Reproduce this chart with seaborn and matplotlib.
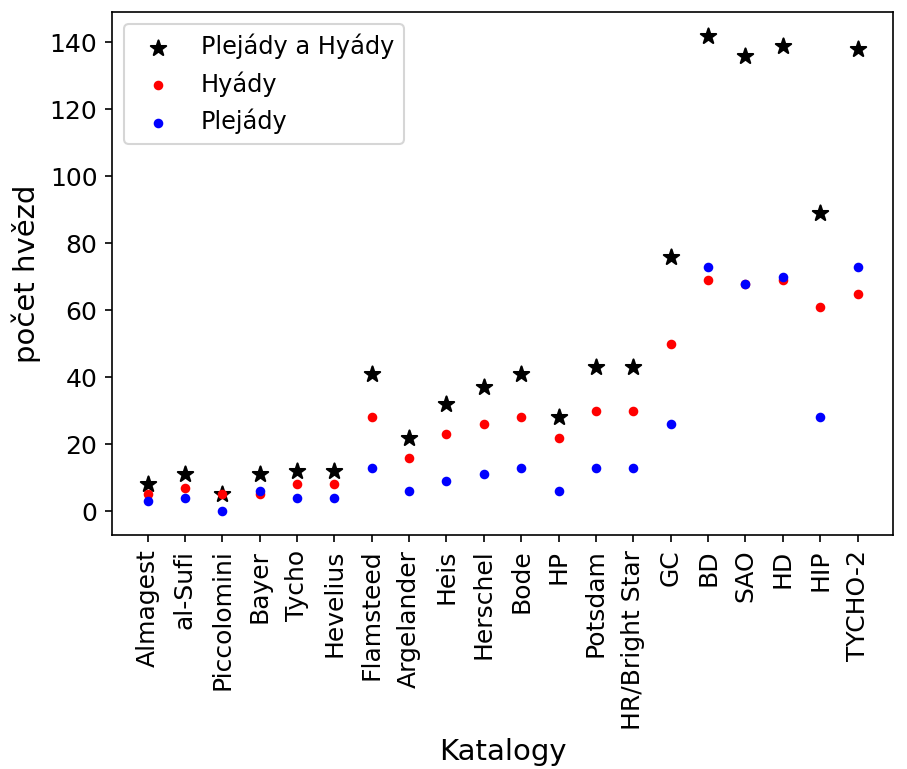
import matplotlib
matplotlib.use("Agg")
import matplotlib.pyplot as plt
import seaborn as sns
import pandas as pd

katalogy = ["Almagest", "al-Sufi", "Piccolomini", "Bayer", "Tycho", "Hevelius",
            "Flamsteed", "Argelander", "Heis", "Herschel", "Bode", "HP", "Potsdam",
            "HR/Bright Star", "GC", "BD", "SAO", "HD", "HIP", "TYCHO-2"]
oboje = [8, 11, 5, 11, 12, 12, 41, 22, 32, 37, 41, 28, 43, 43, 76, 142, 136, 139, 89, 138]
hyady = [5, 7, 5, 5, 8, 8, 28, 16, 23, 26, 28, 22, 30, 30, 50, 69, 68, 69, 61, 65]
plejady = [3, 4, 0, 6, 4, 4, 13, 6, 9, 11, 13, 6, 13, 13, 26, 73, 68, 70, 28, 73]

df = pd.DataFrame({"katalog": katalogy, "oboje": oboje,
                   "hyady": hyady, "plejady": plejady})

plt.rcParams["font.family"] = ["DejaVu Sans"]

fig, ax = plt.subplots(figsize=(907 / 150, 769 / 150), dpi=150)
fig.subplots_adjust(left=0.1235, right=0.9846, top=0.9844, bottom=0.3043)

sns.scatterplot(data=df, x="katalog", y="oboje", marker="*", color="black",
                edgecolor="black", s=60, linewidth=1, label="Plejády a Hyády", ax=ax)
sns.scatterplot(data=df, x="katalog", y="hyady", marker="o", color="red",
                edgecolor="red", s=13, linewidth=1, label="Hyády", ax=ax)
sns.scatterplot(data=df, x="katalog", y="plejady", marker="o", color="blue",
                edgecolor="blue", s=13, linewidth=1, label="Plejády", ax=ax)

ax.set_xlabel("Katalogy", fontsize=14)
ax.set_ylabel("počet hvězd", fontsize=14)
ax.tick_params(axis="x", labelrotation=90, labelsize=12)
ax.tick_params(axis="y", labelsize=12)
ax.legend(loc="upper left", fontsize=11.5)

fig.savefig("out.png", dpi=150)
